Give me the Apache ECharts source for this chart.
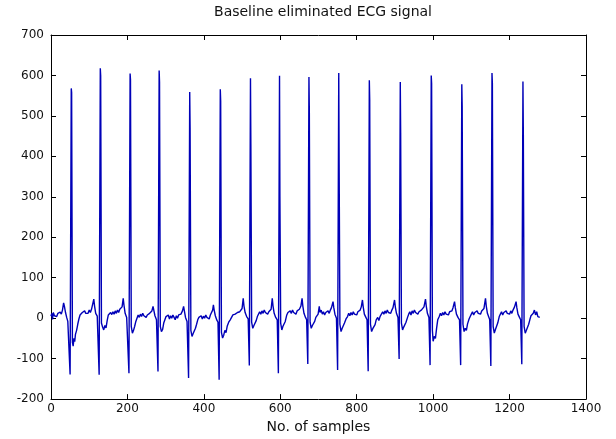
<!DOCTYPE html>
<html>
<head>
<meta charset="utf-8">
<script src="https://cdn.jsdelivr.net/npm/echarts@6/dist/echarts.min.js"></script>
<style>
  html, body { margin: 0; padding: 0; background: #fff; }
  #chart { width: 616px; height: 439px; }
</style>
</head>
<body>
<div id="chart"></div>
<script>
// axis ticks
const xTicks = [0, 200, 400, 600, 800, 1000, 1200, 1400];
const yTicks = [-200, -100, 0, 100, 200, 300, 400, 500, 600, 700];

// [sample no., amplitude]
const ecgSamples = [
  [0,5],[2,12],[4,-3],[6,14],[9,6],[12,10],[15,4],[18,12],[21,8],[24,15],[27,10],[30,20],[33,38],[35,30],[38,14],[41,2],[44,-8],[47,-12],
  [50,-139],[53,568],[54,558],[56,-60],[58,-69],[60,-50],[62,-58],[64,-40],[67,-30],[70,-15],[73,-2],[76,8],[79,4],[82,14],[85,10],[88,18],[91,12],[94,16],[97,12],[100,20],[103,14],[106,22],[109,18],[112,47],[114,30],[117,12],[121,5],[124,2],
  [126,-140],[129,618],[130,599],[132,-12],[135,-22],[138,-29],[141,-18],[144,-24],[147,-6],[150,8],[153,4],[156,14],[159,9],[162,16],[165,10],[168,18],[171,12],[174,20],[177,14],[180,22],[183,18],[186,28],[189,49],[191,32],[194,12],[198,2],[201,0],
  [204,-136],[207,605],[208,590],[210,-20],[213,-37],[216,-30],[219,-20],[222,-8],[225,0],[228,8],[231,2],[234,10],[237,4],[240,12],[243,6],[246,10],[249,2],[252,8],[255,4],[258,12],[261,8],[264,18],[267,29],[269,20],[272,6],[276,-4],
  [280,-132],[283,612],[284,584],[286,-20],[289,-33],[292,-28],[295,-12],[298,-4],[301,4],[304,0],[307,8],[310,-2],[313,6],[316,0],[319,8],[322,2],[325,-4],[328,6],[331,0],[334,8],[337,4],[340,10],[344,18],[347,29],[349,18],[352,2],[356,-8],
  [360,-148],[363,559],[364,469],[366,-30],[369,-45],[372,-38],[375,-42],[378,-25],[381,-15],[384,-4],[387,2],[390,0],[393,6],[396,-2],[399,5],[402,0],[405,8],[408,2],[411,6],[414,-2],[417,8],[420,12],[423,20],[425,33],[427,20],[430,6],[434,-5],[437,-10],
  [440,-152],[443,566],[444,537],[446,-35],[449,-49],[452,-42],[455,-30],[458,-36],[461,-20],[465,-10],[469,-4],[473,0],[476,8],[479,4],[482,10],[485,6],[488,14],[491,10],[494,16],[497,12],[500,24],[503,49],[505,30],[508,14],[512,4],[516,-2],
  [519,-117],[522,593],[523,430],[525,-10],[528,-25],[531,-18],[534,-22],[537,-6],[540,4],[543,8],[546,16],[549,10],[552,18],[555,12],[558,20],[561,14],[564,18],[567,10],[570,16],[573,12],[576,22],[579,49],[581,30],[584,12],[588,2],[592,-4],
  [595,-136],[598,599],[599,300],[601,-12],[604,-29],[607,-20],[610,-24],[613,-8],[617,8],[620,14],[623,10],[626,18],[629,12],[632,20],[635,14],[638,16],[641,10],[644,18],[647,14],[650,22],[654,30],[657,49],[659,30],[662,12],[666,2],[669,-4],
  [672,-113],[675,596],[676,513],[678,-10],[681,-25],[684,-18],[687,-22],[690,-8],[693,2],[696,6],[699,10],[702,29],[704,14],[707,20],[710,10],[713,16],[716,8],[719,14],[722,10],[725,18],[728,12],[731,20],[734,26],[738,41],[740,26],[743,10],[747,0],
  [750,-128],[753,606],[754,380],[756,-15],[759,-33],[762,-25],[765,-28],[768,-12],[772,-2],[776,4],[779,12],[782,6],[785,14],[788,8],[791,16],[794,10],[797,14],[800,8],[803,16],[806,12],[809,20],[812,28],[815,45],[817,28],[820,10],[824,2],[827,-4],
  [830,-131],[833,588],[834,539],[836,-15],[839,-33],[842,-26],[845,-30],[848,-16],[851,-4],[855,2],[858,-6],[861,4],[865,8],[868,16],[871,10],[874,18],[877,12],[880,20],[883,14],[886,18],[889,12],[892,20],[895,26],[899,45],[901,28],[904,12],[908,2],
  [911,-101],[914,584],[915,458],[917,-12],[920,-29],[923,-22],[926,-26],[929,-10],[933,2],[936,10],[939,16],[942,8],[945,18],[948,12],[951,20],[954,14],[957,18],[960,10],[963,16],[966,12],[969,20],[972,16],[976,28],[980,47],[982,30],[985,12],[989,2],
  [992,-116],[995,600],[996,580],[998,-30],[1000,-57],[1003,-45],[1006,-50],[1009,-25],[1012,-4],[1016,4],[1019,12],[1022,6],[1025,14],[1028,8],[1031,16],[1034,10],[1037,14],[1040,8],[1043,16],[1046,12],[1049,18],[1052,26],[1056,41],[1058,26],[1061,10],[1065,2],[1069,-4],
  [1072,-116],[1075,578],[1076,523],[1078,-15],[1081,-33],[1084,-25],[1087,-30],[1090,-14],[1094,-2],[1097,4],[1100,10],[1103,16],[1106,8],[1109,14],[1112,10],[1115,18],[1118,12],[1121,16],[1124,10],[1127,18],[1130,14],[1133,24],[1137,49],[1139,30],[1142,12],[1146,2],[1148,-4],
  [1151,-118],[1154,606],[1155,580],[1157,-20],[1160,-37],[1163,-28],[1166,-32],[1169,-12],[1173,4],[1176,10],[1179,16],[1182,8],[1185,14],[1188,10],[1191,18],[1194,12],[1197,16],[1200,10],[1203,18],[1206,12],[1209,20],[1213,28],[1217,41],[1219,26],[1222,10],[1226,2],[1229,-4],
  [1232,-114],[1235,585],[1236,457],[1238,-20],[1241,-37],[1244,-30],[1247,-34],[1250,-15],[1253,-4],[1256,6],[1259,2],[1262,12],[1265,20],[1268,8],[1271,16],[1274,4],[1277,8],[1279,2]
];

const FONT = "DejaVu Sans";
const chart = echarts.init(document.getElementById("chart"), null, { renderer: "canvas" });

function valueAxis(ticks, extra) {
  return Object.assign({
    type: "value",
    min: ticks[0],
    max: ticks[ticks.length - 1],
    interval: ticks[1] - ticks[0],
    axisLine: { show: true, onZero: false, lineStyle: { color: "#000", width: 1 } },
    axisTick: { show: true, inside: true, length: 5, lineStyle: { color: "#000" } },
    splitLine: { show: false },
    axisLabel: { show: false },
  }, extra);
}

const tickLabel = (margin) => ({
  show: true,
  color: "#111",
  fontFamily: FONT,
  fontSize: 12,
  margin,
  formatter: (v) => String(v),
});

chart.setOption({
  animation: false,
  backgroundColor: "#fff",
  title: {
    text: "Baseline eliminated ECG signal",
    left: 318,
    top: 0,
    textAlign: "center",
    textStyle: { fontFamily: FONT, fontSize: 14, fontWeight: "normal", color: "#111" },
  },
  grid: { left: 51, right: 30, top: 35, bottom: 37 },
  xAxis: [
    valueAxis(xTicks, {
      position: "bottom",
      name: "No. of samples",
      nameLocation: "middle",
      nameGap: 19,
      nameTextStyle: { fontFamily: FONT, fontSize: 14, color: "#111" },
      axisLabel: tickLabel(4),
    }),
    valueAxis(xTicks, { position: "top" }),
  ],
  yAxis: [
    valueAxis(yTicks, { position: "left", axisLabel: tickLabel(7) }),
    valueAxis(yTicks, { position: "right" }),
  ],
  series: [
    {
      type: "line",
      data: ecgSamples,
      showSymbol: false,
      symbol: "none",
      xAxisIndex: 0,
      yAxisIndex: 0,
      lineStyle: { color: "#0000b8", width: 1.4 },
    },
  ],
});
</script>
</body>
</html>
